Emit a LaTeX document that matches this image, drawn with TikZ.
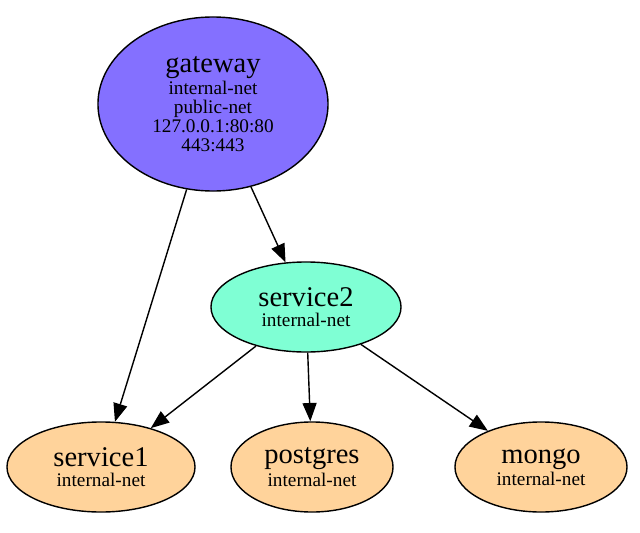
\documentclass[tikz,border=0pt]{standalone}
\usepackage{fontspec}
\setmainfont{Liberation Serif}
\usetikzlibrary{shapes.geometric,arrows.meta}
\definecolor{gwblue}{RGB}{132,112,255}
\definecolor{aqua}{RGB}{127,255,212}
\definecolor{burly}{RGB}{255,211,155}
\newcommand{\bigname}[1]{{\fontsize{20.3}{20}\selectfont #1}}

\begin{document}
\begin{tikzpicture}[x=0.025cm,y=-0.025cm]
    \tikzset{%
      svc/.style={ellipse, draw, line width=1pt, inner sep=0pt,
        align=center, minimum height=2.25cm,
        font=\fontsize{13.7}{13.6}\selectfont},
      edge/.style={line width=1pt, -{Triangle[length=13pt,width=10pt]}},
    }
    \useasboundingbox (0,0) rectangle (640,533);

    \node[svc, fill=gwblue, minimum width=5.75cm, minimum height=4.35cm] (gw) at (213,104)
      {\bigname{gateway}\\[1pt] internal-net\\ public-net\\
       127.0.0.1:80:80\\ 443:443};
    \node[svc, fill=aqua, minimum width=4.75cm] (s2) at (306,307)
      {\bigname{service2}\\[1pt] internal-net};

    \node[svc, fill=burly, minimum width=4.7cm] (s1) at (101,467)
      {\bigname{service1}\\[1pt] internal-net};
    \node[svc, fill=burly, minimum width=4.05cm] (pg) at (312,467)
      {\bigname{postgres}\\[1pt] internal-net};
    \node[svc, fill=burly, minimum width=4.3cm] (mg) at (541,467)
      {\bigname{mongo}\\[1pt] internal-net};

    \draw [edge] (gw) -- (s1);
    \draw [edge] (gw) -- (s2);
    \draw [edge] (s2) -- (s1);
    \draw [edge] (s2) -- (pg);
    \draw [edge] (s2) -- (mg);
\end{tikzpicture}
\end{document}
